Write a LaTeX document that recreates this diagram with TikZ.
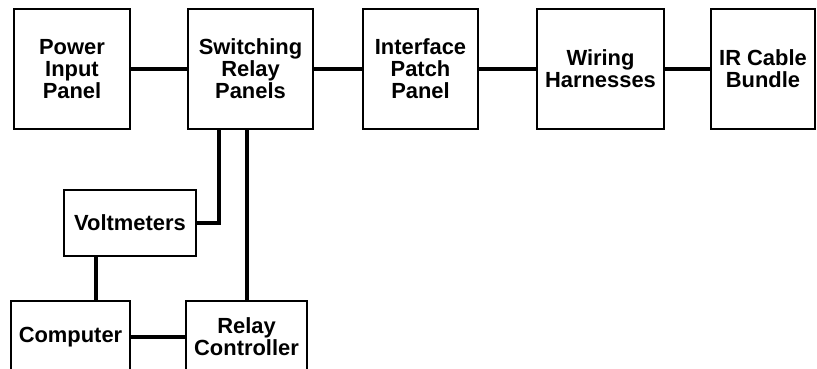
\documentclass[tikz,border=0pt]{standalone}
\usepackage{fontspec}
\setmainfont{Liberation Sans}
\usepackage{tikz}
\usetikzlibrary{positioning}

\begin{document}
\begin{tikzpicture}[
    x=0.03cm, y=-0.03cm,
    box/.style={rectangle, draw=black, line width=1.9pt, inner sep=0pt,
                align=center, minimum height=3.6cm,
                font=\bfseries\fontsize{18.7}{18.9}\selectfont},
    wire/.style={line width=3.4pt, color=black}
  ]
    \path[use as bounding box, clip] (0,0) rectangle (817,369);

    % top row
    \node[box, minimum width=3.48cm] (power)  at (72,69)    {Power\\Input\\Panel};
    \node[box, minimum width=3.75cm] (switch) at (250.5,69) {Switching\\Relay\\Panels};
    \node[box, minimum width=3.45cm] (patch)  at (420.5,69) {Interface\\Patch\\Panel};
    \node[box, minimum width=3.81cm] (wiring) at (600.5,69) {Wiring\\Harnesses};
    \node[box, minimum width=3.12cm] (cable)  at (763,69)   {IR Cable\\Bundle};

    % control side
    \node[box, minimum width=3.96cm, minimum height=1.98cm] (volt)  at (130,223)   {Voltmeters};
    \node[box, minimum width=3.57cm, minimum height=2.16cm] (comp)  at (70.5,337)  {Computer};
    \node[box, minimum width=3.63cm, minimum height=2.16cm] (relay) at (246.5,337) {Relay\\Controller};

    \draw[wire] (power)  -- (switch);
    \draw[wire] (switch) -- (patch);
    \draw[wire] (patch)  -- (wiring);
    \draw[wire] (wiring) -- (cable);
    \draw[wire] ([xshift=-0.945cm]switch.south) |- (volt.east);
    \draw[wire] ([xshift=-0.105cm]switch.south) -- ([xshift=-0.105cm]switch.south |- relay.north);
    \draw[wire] ([xshift=-1.02cm]volt.south) -- ([xshift=-1.02cm]volt.south |- comp.north);
    \draw[wire] (comp) -- (relay);
  \end{tikzpicture}
\end{document}
